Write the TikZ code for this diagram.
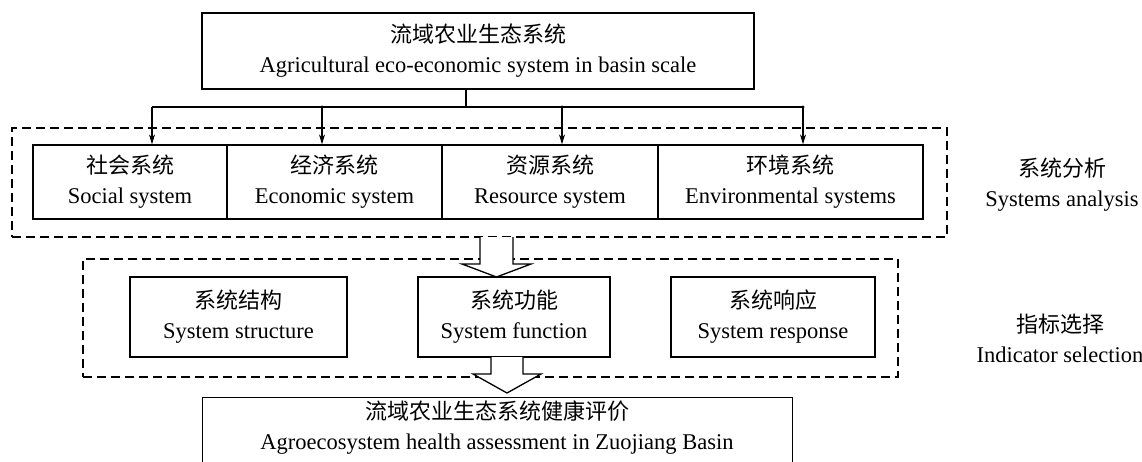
\documentclass[tikz,border=0pt]{standalone}
\usepackage{fontspec}
\setmainfont{Liberation Serif}
\newfontfamily\cjkfont{Noto Sans CJK SC}
\usetikzlibrary{arrows.meta}
\newcommand{\zhtext}[1]{{\cjkfont\fontsize{22}{30}\selectfont #1}}
\begin{document}
\begin{tikzpicture}[x=1pt,y=-1pt,
  box/.style={draw, line width=1.3pt, inner sep=0pt, align=center,
    font=\fontsize{22.5}{30}\selectfont},
  txt/.style={inner sep=0pt, align=center, font=\fontsize{22.5}{30}\selectfont},
  dbox/.style={draw, dash pattern=on 9pt off 5pt, line width=1.2pt, inner sep=0pt},
  line/.style={line width=1.1pt},
  conn/.style={line width=1.1pt, -{Stealth[length=10pt,width=6pt]}},
  hollow/.style={draw, fill=white, line width=1.3pt, line join=miter}]
\useasboundingbox (0,0) rectangle (1142,461);
\clip (0,0) rectangle (1142,461);

% dashed groups
\node[dbox, minimum width=935, minimum height=109] (grp1) at (479.5,182.5) {};
\node[dbox, minimum width=815, minimum height=118] (grp2) at (490.5,318) {};

% top box
\node[box, minimum width=552, minimum height=76] (top) at (478,51)
  {\zhtext{流域农业生态系统}\\Agricultural eco-economic system in basin scale};

% row 1
\node[box, minimum width=194, minimum height=74] (s1) at (130,182)
  {\zhtext{社会系统}\\Social system};
\node[box, minimum width=215, minimum height=74] (s2) at (334.5,182)
  {\zhtext{经济系统}\\Economic system};
\node[box, minimum width=216, minimum height=74] (s3) at (550,182)
  {\zhtext{资源系统}\\Resource system};
\node[box, minimum width=265, minimum height=74] (s4) at (790.5,182)
  {\zhtext{环境系统}\\Environmental systems};

% row 2
\node[box, minimum width=217, minimum height=80] (r1) at (238.5,317)
  {\zhtext{系统结构}\\System structure};
\node[box, minimum width=192, minimum height=80] (r2) at (514,317)
  {\zhtext{系统功能}\\System function};
\node[box, minimum width=204, minimum height=80] (r3) at (773,317)
  {\zhtext{系统响应}\\System response};

% bottom box
\node[box, minimum width=590, minimum height=90, anchor=north west] (bot) at (202,397) {};
\node[txt] (bottxt) at (497,428)
  {\zhtext{流域农业生态系统健康评价}\\Agroecosystem health assessment in Zuojiang Basin};

% side labels
\node[txt] (lab1) at (1062,185) {\zhtext{系统分析}\\Systems analysis};
\node[txt] (lab2) at (1060,338) {\zhtext{指标选择}\\Indicator selection};

% connectors from top box
\coordinate (jt) at (466,107);
\coordinate (b1) at (152,107);
\coordinate (b2) at (322,107);
\coordinate (b3) at (562,107);
\coordinate (b4) at (803,107);
\draw[line] (jt |- top.south) -- (jt);
\draw[line] (b1) -- (b4);
\draw[conn] (b1) -- (b1 |- s1.north);
\draw[conn] (b2) -- (b2 |- s2.north);
\draw[conn] (b3) -- (b3 |- s3.north);
\draw[conn] (b4) -- (b4 |- s4.north);
\fill (b2) circle (1.7);
\fill (b3) circle (1.7);
\fill (b4) circle (1.7);

% hollow arrows
\coordinate (h1) at (496.5,237);
\draw[hollow] (h1) ++(-16.5,0) -- ++(0,27) -- ++(-18,0) -- ++(34.5,13) -- ++(34.5,-13) -- ++(-18,0) -- ++(0,-27);
\coordinate (h2) at (507,357);
\draw[hollow] (h2) ++(-16,0) -- ++(0,17) -- ++(-18,0) -- ++(34,19) -- ++(34,-19) -- ++(-18,0) -- ++(0,-17);
\end{tikzpicture}
\end{document}
